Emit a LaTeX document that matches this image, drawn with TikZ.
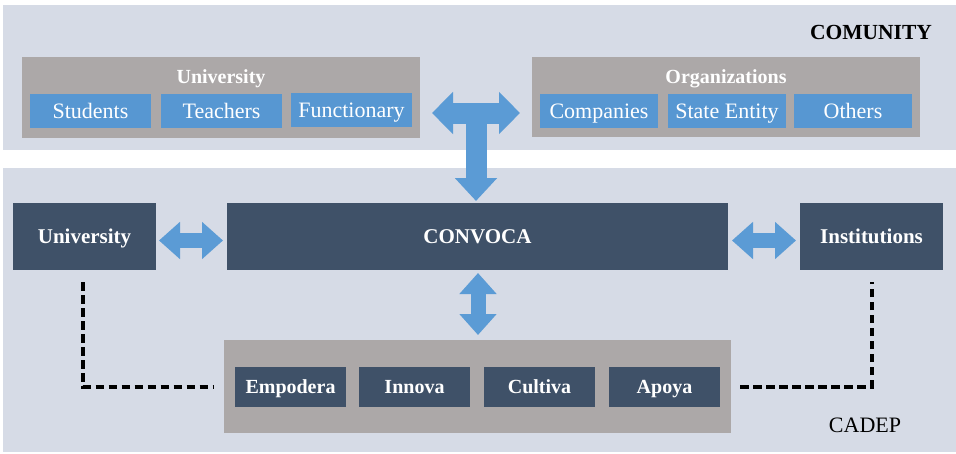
\documentclass[tikz,border=0pt]{standalone}
\usepackage{fontspec}
\setmainfont{Liberation Serif}
\usetikzlibrary{arrows.meta}

\definecolor{bandgray}{HTML}{D6DBE6}
\definecolor{groupgray}{HTML}{ACA8A8}
\definecolor{itemblue}{HTML}{5797D2}
\definecolor{arrowblue}{HTML}{5B9BD5}
\definecolor{darkslate}{HTML}{3F5168}

\begin{document}
\begin{tikzpicture}[x=1pt, y=-1pt,
    band/.style={fill=bandgray, inner sep=0pt, outer sep=0pt, anchor=north west},
    group/.style={fill=groupgray, inner sep=0pt, outer sep=0pt},
    grouptitle/.style={text=white, text height=13.2pt, text depth=0pt,
        font=\fontsize{20pt}{22pt}\selectfont\bfseries},
    itembox/.style={fill=itemblue, text=white, inner sep=0pt, outer sep=0pt,
        text height=14.5pt, text depth=0pt,
        minimum height=34pt, font=\fontsize{22pt}{24pt}\selectfont},
    darkbox/.style={fill=darkslate, text=white, inner sep=0pt, outer sep=0pt,
        text height=14pt, text depth=0pt,
        minimum height=67pt, font=\fontsize{21pt}{23pt}\selectfont\bfseries},
    pillar/.style={fill=darkslate, text=white, inner sep=0pt, outer sep=0pt,
        text height=13.2pt, text depth=0pt,
        minimum width=111pt, minimum height=40pt, font=\fontsize{20pt}{22pt}\selectfont\bfseries},
    bandlabel/.style={text=black, inner sep=0pt, text height=14.5pt, text depth=0pt},
    bigarrow/.style={draw=arrowblue, line width=21pt,
        -{Triangle[length=23pt, width=41pt]}},
    bigboth/.style={draw=arrowblue, line width=21pt,
        {Triangle[length=21pt, width=41pt]}-{Triangle[length=21pt, width=41pt]}},
    linkarrow/.style={draw=arrowblue, line width=15pt,
        {Triangle[length=21pt, width=36pt]}-{Triangle[length=21pt, width=36pt]}},
    dashlink/.style={draw=black, line width=4pt, dash pattern=on 8.5pt off 4.5pt}]

    \useasboundingbox (0,0) rectangle (956,453);

    % bands
    \node[band, minimum width=953pt, minimum height=145pt] (comband) at (3,5) {};
    \node[band, minimum width=953pt, minimum height=284pt] (cadband) at (3,168) {};
    \node[bandlabel, font=\fontsize{21.5pt}{23pt}\selectfont\bfseries] (comunity) at (871,32) {COMUNITY};
    \node[bandlabel, font=\fontsize{22pt}{24pt}\selectfont] (cadep) at (865,425) {CADEP};

    % community groups
    \node[group, minimum width=398pt, minimum height=81pt] (univtop) at (221,97.5) {};
    \node[grouptitle] (univtitle) at (221,77) {University};
    \node[itembox, minimum width=121pt] (students) at (90.5,111) {Students};
    \node[itembox, minimum width=121pt] (teachers) at (221.5,111) {Teachers};
    \node[itembox, minimum width=121pt] (functionary) at (351.5,110) {Functionary};

    \node[group, minimum width=388pt, minimum height=80pt] (orgs) at (726,97) {};
    \node[grouptitle] (orgtitle) at (726,77) {Organizations};
    \node[itembox, minimum width=118pt] (companies) at (599,111) {Companies};
    \node[itembox, minimum width=118pt] (state) at (727,111) {State Entity};
    \node[itembox, minimum width=118pt] (others) at (853,111) {Others};

    % cadep row
    \node[darkbox, minimum width=143pt] (univ) at (84.5,236.5) {University};
    \node[darkbox, minimum width=501pt] (convoca) at (477.5,236.5) {CONVOCA};
    \node[darkbox, minimum width=143pt] (inst) at (871.5,236.5) {Institutions};

    \node[group, minimum width=507pt, minimum height=93pt] (programs) at (477.5,386.5) {};
    \node[pillar] (empodera) at (290.5,387) {Empodera};
    \node[pillar] (innova) at (414.5,387) {Innova};
    \node[pillar] (cultiva) at (539.5,387) {Cultiva};
    \node[pillar] (apoya) at (664.5,387) {Apoya};

    % arrows
    \coordinate (hub) at (476,113);
    \draw[bigboth] ([xshift=12pt]hub -| univtop.east) -- ([xshift=-12pt]hub -| orgs.west);
    \draw[bigarrow] (hub) -- ([yshift=2pt]convoca.north -| hub);
    \draw[linkarrow] ([xshift=3pt,yshift=-4pt]univ.east) -- ([xshift=-4pt,yshift=-4pt]convoca.west);
    \draw[linkarrow] ([xshift=4pt,yshift=-4pt]convoca.east) -- ([xshift=-4pt,yshift=-4pt]inst.west);
    \draw[linkarrow] ([xshift=0.5pt,yshift=-3pt]convoca.south) -- ([xshift=0.5pt,yshift=5pt]programs.north);

    \draw[dashlink] ([xshift=-1.5pt,yshift=-12pt]univ.south) |- ([xshift=-11pt]programs.west);
    \draw[dashlink] ([xshift=9pt]programs.east) -| ([yshift=-12pt]inst.south);

\end{tikzpicture}
\end{document}
